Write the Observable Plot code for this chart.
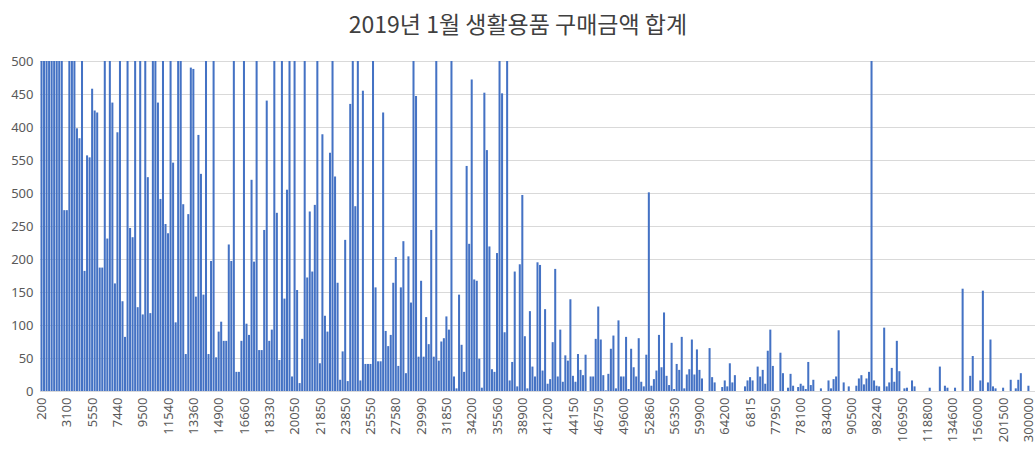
<!DOCTYPE html>
<html><head><meta charset="utf-8">
<script src="https://cdn.jsdelivr.net/npm/d3@7"></script>
<script src="https://cdn.jsdelivr.net/npm/@observablehq/plot@0.6"></script>
<style>
body{margin:0;background:#fff;}
#title{height:44px;line-height:46px;text-align:center;font-family:"Noto Sans CJK KR","Noto Sans";font-size:23px;color:#404040;}
#chart svg{display:block;}
</style></head><body>
<div id="title">2019년 1월 생활용품 구매금액 합계</div>
<div id="chart"></div>
<script>
const tickLabels = ["200","3100","5550","7440","9500","11540","13360","14900","16660","18330","20050","21850","23850","25550","27580","29990","31850","34200","35560","38900","41200","44150","46750","49600","52860","56350","59900","64200","6815","77950","78100","83400","90500","98240","106950","118800","134600","156000","201500","300000"];
const yTickValues = [0,50,100,150,200,250,300,350,400,450,500];
const yTickLabels = ["0","50","100","150","200","250","500","550","400","450","500"];
const amounts = [
600,600,600,600,600,600,600,600,600,274,274,600,600,600,398,383,600,182,357,354,
458,425,422,187,187,600,231,600,437,163,392,600,136,82,600,247,233,600,127,600,
116,600,324,118,600,600,437,291,600,253,239,600,346,104,600,600,283,56,268,490,
488,143,388,329,146,600,56,197,600,51,90,105,76,76,222,197,600,29,29,76,
600,102,85,320,196,600,62,62,244,440,76,93,600,270,47,600,140,305,600,22,
600,153,12,79,600,172,272,181,282,600,42,389,114,90,361,600,325,164,17,60,
229,15,435,600,280,600,16,455,41,41,41,600,157,45,45,422,91,68,85,164,
203,38,157,227,27,204,134,600,447,52,167,52,112,71,244,52,600,46,75,80,
113,93,600,22,4,146,70,29,341,223,472,169,167,49,5,452,365,219,33,29,
209,600,451,89,600,16,44,181,7,192,297,83,4,121,37,22,195,191,31,124,
11,18,74,185,22,93,14,54,46,139,23,14,56,32,24,55,0,22,22,79,
128,78,24,1,26,64,84,4,107,22,22,82,3,64,36,22,80,14,7,55,
301,8,18,31,85,36,119,23,9,73,3,41,32,82,4,25,33,78,25,63,
32,19,0,0,65,21,13,0,0,6,16,7,42,13,24,0,0,0,7,16,
21,16,0,37,22,32,11,61,93,38,0,0,58,27,0,5,26,8,0,6,
11,8,3,44,9,17,0,0,4,0,0,16,4,18,22,92,0,13,0,7,
0,0,8,19,24,10,19,29,520,16,8,7,0,96,7,13,35,14,76,30,
0,4,5,0,16,7,0,0,0,0,0,5,0,0,0,37,0,8,5,0,
0,5,0,0,155,0,0,23,53,0,0,16,152,0,13,78,7,4,0,0,
5,0,0,17,0,4,17,27,0,0,8,0,0
];
const data = amounts.map((v, i) => ({i, v}));
const chart = Plot.plot({
  width: 1036, height: 405,
  marginLeft: 40, marginRight: 1, marginTop: 17, marginBottom: 58,
  style: {fontFamily: "'Noto Sans', sans-serif", fontSize: "13px", color: "#595959", background: "#fff"},
  x: {type: "band", domain: d3.range(amounts.length), padding: 0.2, axis: null},
  y: {domain: [0, 500], axis: null},
  marks: [
    Plot.gridY(yTickValues, {stroke: "#d9d9d9", strokeOpacity: 1, strokeWidth: 1.2}),
    Plot.barY(data, {x: "i", y: "v", fill: "#4472c4", clip: true}),
    Plot.axisX(d3.range(0, amounts.length, 10), {label: null, tickSize: 0, tickPadding: 6, tickRotate: -90, fill: "#595959", fontSize: 13,
      tickFormat: d => tickLabels[d / 10]}),
    Plot.axisY(yTickValues, {label: null, tickSize: 0, tickPadding: 7, fill: "#595959", fontSize: 13,
      tickFormat: d => yTickLabels[yTickValues.indexOf(d)]})
  ]
});
document.getElementById("chart").appendChild(chart);
</script>
</body></html>
